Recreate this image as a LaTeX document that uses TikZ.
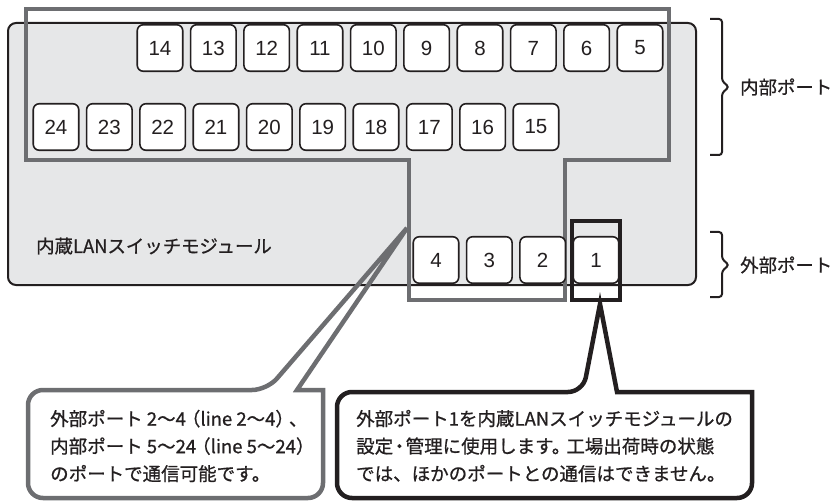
\documentclass[tikz,border=0pt]{standalone}
\usepackage{fontspec}
\setmainfont{Liberation Sans}
\newfontfamily\jp[FakeBold=0.8]{Noto Sans CJK JP}
\definecolor{outlinegray}{RGB}{109,110,113}
\definecolor{boxfill}{RGB}{230,231,232}
\definecolor{inkblack}{RGB}{35,31,32}
\tikzset{
  port/.style={draw=inkblack, line width=1.6pt, rounded corners=6pt, fill=white,
    minimum width=45.5pt, minimum height=46.5pt, inner sep=0pt,
    font=\fontsize{20.5}{22}\selectfont, text=inkblack},
  jplabel/.style={font=\jp\fontsize{18.4}{20}\selectfont, inner sep=0pt, text=inkblack},
  callouttext/.style={font=\jp\fontsize{18.5}{27.5}\selectfont, inner sep=0pt, align=left, text=inkblack},
  brace/.style={draw=inkblack, line width=2pt, rounded corners=3pt},
}
\begin{document}
\begin{tikzpicture}[x=1pt,y=-1pt]
\useasboundingbox (0,0) rectangle (834,502);
% module box
\draw[draw=inkblack, fill=boxfill, line width=2pt, rounded corners=8pt] (8,23) rectangle (696,285);
\node[jplabel, anchor=west] (modlabel) at (36,246) {内蔵LANスイッチモジュール};
% gray group outline
\draw[outlinegray, line width=4.5pt] (26,9) -- (669,9) -- (669,160) -- (565,160) -- (565,300) -- (409,300) -- (409,160) -- (26,160) -- cycle;
% ports
\foreach \n in {14,13,...,5} {
  \node[port] (p\n) at ({160+(14-\n)*53.33},48) {\n};
}
\foreach \n in {24,23,...,15} {
  \node[port] (p\n) at ({56+(24-\n)*53.33},127) {\n};
}
\foreach \n in {4,3,2,1} {
  \node[port] (p\n) at ({436+(4-\n)*53.33},260) {\n};
}
% black frame around port 1
\draw[inkblack, line width=4.5pt] (572,221) rectangle (620,300);
% braces
\draw[brace] (710,19) -- (722,19) -- (722,81) -- (729,87) -- (722,93) -- (722,155) -- (710,155);
\node[jplabel, anchor=west] (inner) at (740,87) {内部ポート};
\draw[brace] (710,232) -- (722,232) -- (722,259) -- (729,265) -- (722,271) -- (722,297) -- (710,297);
\node[jplabel, anchor=west] (outer) at (740,265) {外部ポート};
% left callout
\draw[outlinegray, line width=4.5pt, line join=miter]
  (407,228) -- (297,390) -- (323,390) [rounded corners=15pt] -- (323,498) -- (28,498) -- (28,390) -- (267,390) [sharp corners] -- cycle;
\node[callouttext, anchor=west] (lefttext) at (50,446) {外部ポート 2〜4\kern-4pt（line 2〜4）\kern-5pt、\\内部ポート 5〜24\kern-4pt（line 5〜24）\\のポートで通信可能です。};
% right callout
\draw[inkblack, line width=4.5pt, line join=miter]
  (600,304) -- (617,392) -- (752,392) [rounded corners=15pt] -- (752,498) -- (337,498) -- (337,392) -- (583,392) [sharp corners] -- cycle;
\node[callouttext, anchor=west] (righttext) at (356,446) {外部ポート1を内蔵LANスイッチモジュールの\\設定\kern-3pt・\kern-3pt管理に使用します。\kern-4pt工場出荷時の状態\\では、ほかのポートとの通信はできません。};
\end{tikzpicture}
\end{document}
